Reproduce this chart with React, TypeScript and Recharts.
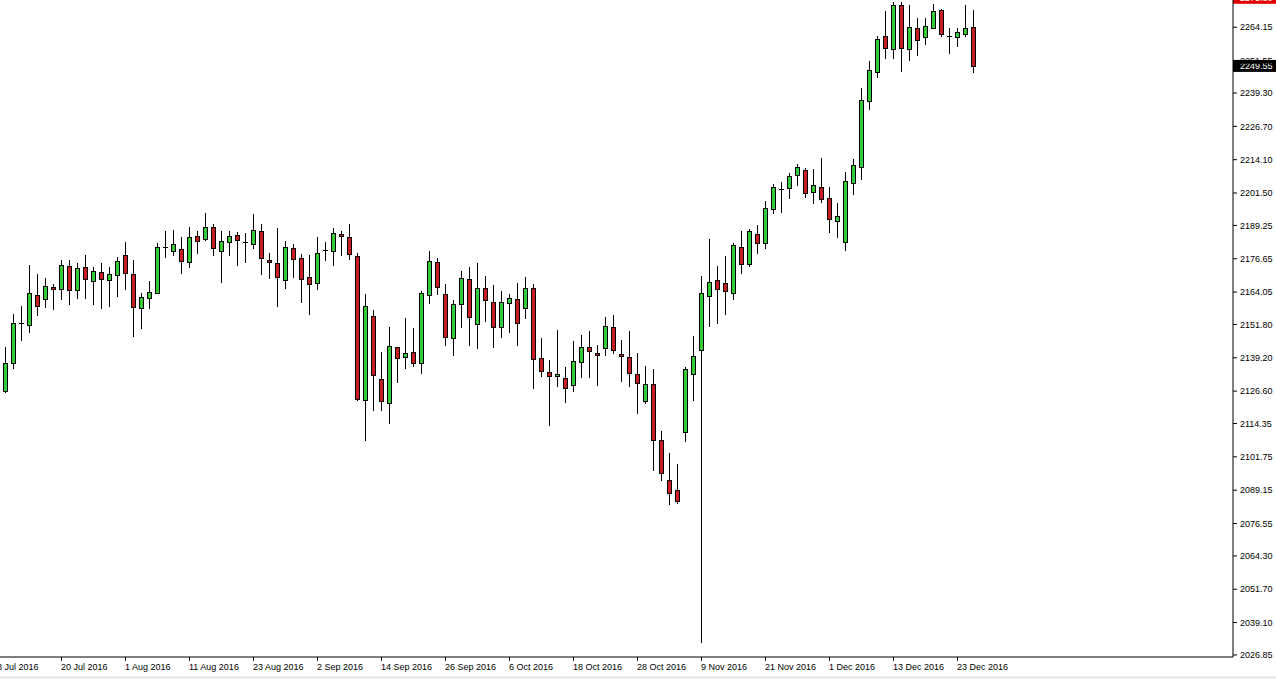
import React from "react";
import { ComposedChart, Bar, XAxis, YAxis, ReferenceLine } from "recharts";

// daily bars, 8 Jul 2016 .. 28 Dec 2016 (8 Jul sits just off the left edge)
const dates = [
  "8 Jul 2016", "11 Jul 2016", "12 Jul 2016", "13 Jul 2016", "14 Jul 2016", "15 Jul 2016",
  "18 Jul 2016", "19 Jul 2016", "20 Jul 2016", "21 Jul 2016", "22 Jul 2016",
  "25 Jul 2016", "26 Jul 2016", "27 Jul 2016", "28 Jul 2016", "29 Jul 2016",
  "1 Aug 2016", "2 Aug 2016", "3 Aug 2016", "4 Aug 2016", "5 Aug 2016",
  "8 Aug 2016", "9 Aug 2016", "10 Aug 2016", "11 Aug 2016", "12 Aug 2016",
  "15 Aug 2016", "16 Aug 2016", "17 Aug 2016", "18 Aug 2016", "19 Aug 2016",
  "22 Aug 2016", "23 Aug 2016", "24 Aug 2016", "25 Aug 2016", "26 Aug 2016",
  "29 Aug 2016", "30 Aug 2016", "31 Aug 2016", "1 Sep 2016", "2 Sep 2016",
  "5 Sep 2016", "6 Sep 2016", "7 Sep 2016", "8 Sep 2016", "9 Sep 2016",
  "12 Sep 2016", "13 Sep 2016", "14 Sep 2016", "15 Sep 2016", "16 Sep 2016",
  "19 Sep 2016", "20 Sep 2016", "21 Sep 2016", "22 Sep 2016", "23 Sep 2016",
  "26 Sep 2016", "27 Sep 2016", "28 Sep 2016", "29 Sep 2016", "30 Sep 2016",
  "3 Oct 2016", "4 Oct 2016", "5 Oct 2016", "6 Oct 2016", "7 Oct 2016",
  "10 Oct 2016", "11 Oct 2016", "12 Oct 2016", "13 Oct 2016", "14 Oct 2016",
  "17 Oct 2016", "18 Oct 2016", "19 Oct 2016", "20 Oct 2016", "21 Oct 2016",
  "24 Oct 2016", "25 Oct 2016", "26 Oct 2016", "27 Oct 2016", "28 Oct 2016",
  "31 Oct 2016", "1 Nov 2016", "2 Nov 2016", "3 Nov 2016", "4 Nov 2016",
  "7 Nov 2016", "8 Nov 2016", "9 Nov 2016", "10 Nov 2016", "11 Nov 2016",
  "14 Nov 2016", "15 Nov 2016", "16 Nov 2016", "17 Nov 2016", "18 Nov 2016",
  "21 Nov 2016", "22 Nov 2016", "23 Nov 2016", "24 Nov 2016", "25 Nov 2016",
  "28 Nov 2016", "29 Nov 2016", "30 Nov 2016", "1 Dec 2016", "2 Dec 2016",
  "5 Dec 2016", "6 Dec 2016", "7 Dec 2016", "8 Dec 2016", "9 Dec 2016",
  "12 Dec 2016", "13 Dec 2016", "14 Dec 2016", "15 Dec 2016", "16 Dec 2016",
  "19 Dec 2016", "20 Dec 2016", "21 Dec 2016", "22 Dec 2016", "23 Dec 2016",
  "27 Dec 2016", "28 Dec 2016",
];

const opens = [
  2107.0, 2126.8, 2137.1, 2152.2, 2151.6, 2163.1, 2161.5, 2166.0, 2165.2, 2173.9, 2164.9,
  2173.6, 2168.3, 2171.7, 2168.7, 2170.5, 2178.1, 2171.0, 2157.9, 2161.7, 2163.7,
  2181.0, 2179.5, 2180.4, 2175.3, 2185.3, 2184.0, 2188.8, 2179.6, 2183.0, 2185.8,
  2182.9, 2182.3, 2187.2, 2176.2, 2175.1, 2168.7, 2180.8, 2177.0, 2169.6, 2167.5,
  2180.0, 2179.6, 2186.1, 2185.0, 2177.7, 2123.2, 2155.0, 2131.2, 2122.1, 2143.3,
  2139.5, 2141.4, 2137.2, 2163.0, 2175.5, 2163.4, 2146.7, 2159.6, 2169.0, 2152.0,
  2165.6, 2160.3, 2150.9, 2160.0, 2161.5, 2158.1, 2165.6, 2139.1, 2133.8, 2132.3,
  2131.6, 2128.9, 2137.6, 2143.3, 2141.0, 2142.9, 2150.9, 2140.6, 2139.5, 2133.1,
  2122.9, 2129.3, 2108.1, 2093.0, 2089.2, 2111.1, 2133.1, 2142.2, 2162.6, 2168.7,
  2167.5, 2163.7, 2181.2, 2174.7, 2186.1, 2182.6, 2195.5, 2203.2, 2203.5, 2208.4,
  2210.3, 2202.0, 2203.9, 2199.7, 2191.0, 2183.0, 2205.4, 2211.4, 2236.4, 2247.4,
  2261.0, 2256.1, 2272.7, 2256.1, 2263.7, 2260.6, 2264.0, 2270.8, 2261.0, 2260.6,
  2261.8, 2264.4,
];

const highs = [
  2129.5, 2143.4, 2155.8, 2158.8, 2174.4, 2170.9, 2169.5, 2167.1, 2176.0, 2176.0, 2175.2,
  2178.2, 2173.7, 2175.2, 2173.7, 2177.2, 2182.9, 2176.0, 2163.6, 2168.4, 2182.6,
  2187.3, 2187.7, 2184.8, 2188.8, 2187.3, 2194.1, 2189.6, 2187.0, 2187.0, 2186.6,
  2186.2, 2193.7, 2189.6, 2178.9, 2188.3, 2183.5, 2182.3, 2178.5, 2178.2, 2185.0,
  2182.9, 2188.1, 2187.3, 2189.9, 2178.9, 2163.4, 2157.3, 2141.3, 2150.7, 2143.4,
  2154.3, 2150.5, 2164.6, 2179.7, 2176.8, 2167.1, 2161.1, 2172.2, 2173.7, 2175.1,
  2170.2, 2166.8, 2164.5, 2163.4, 2167.5, 2169.8, 2167.1, 2146.7, 2138.4, 2149.7,
  2135.7, 2145.6, 2147.8, 2149.3, 2144.1, 2154.7, 2155.4, 2145.9, 2149.3, 2141.0,
  2136.1, 2134.9, 2111.5, 2103.2, 2099.0, 2135.7, 2147.4, 2170.2, 2184.2, 2173.9,
  2177.7, 2182.6, 2187.3, 2188.0, 2189.5, 2198.5, 2205.0, 2205.7, 2209.2, 2212.6,
  2211.0, 2210.7, 2214.8, 2203.9, 2197.8, 2209.5, 2214.5, 2241.3, 2251.5, 2261.0,
  2270.5, 2273.6, 2273.8, 2272.4, 2267.8, 2267.8, 2273.1, 2271.2, 2263.7, 2263.7,
  2272.4, 2270.8,
];

const lows = [
  2106.5, 2126.4, 2135.2, 2146.0, 2148.8, 2155.2, 2158.5, 2157.5, 2161.3, 2159.6, 2161.8,
  2161.8, 2159.6, 2157.9, 2158.8, 2162.6, 2165.2, 2147.3, 2150.3, 2157.9, 2163.6,
  2177.2, 2177.9, 2171.1, 2173.4, 2178.7, 2183.9, 2178.1, 2167.8, 2178.1, 2174.3,
  2175.3, 2180.8, 2170.9, 2169.3, 2158.8, 2165.6, 2169.6, 2160.2, 2155.8, 2165.2,
  2176.2, 2174.3, 2178.1, 2176.6, 2123.2, 2108.1, 2119.4, 2119.4, 2114.5, 2129.9,
  2135.3, 2136.1, 2133.5, 2160.0, 2163.4, 2144.1, 2140.3, 2150.7, 2144.1, 2142.9,
  2153.2, 2143.3, 2147.1, 2149.0, 2144.1, 2154.3, 2127.8, 2132.3, 2113.8, 2128.5,
  2122.5, 2126.6, 2131.9, 2131.9, 2128.9, 2140.3, 2141.0, 2130.4, 2128.5, 2118.3,
  2122.1, 2096.7, 2093.0, 2083.9, 2084.3, 2107.7, 2123.2, 2031.9, 2151.2, 2152.2,
  2155.8, 2161.5, 2171.3, 2173.9, 2178.9, 2180.8, 2194.0, 2194.4, 2199.7, 2204.6,
  2200.1, 2197.8, 2198.2, 2186.8, 2184.9, 2180.0, 2201.2, 2206.9, 2233.4, 2245.5,
  2252.7, 2252.7, 2247.8, 2251.9, 2253.8, 2258.0, 2263.7, 2261.0, 2254.6, 2257.2,
  2261.0, 2247.4,
];

const closes = [
  2127.0, 2137.3, 2152.4, 2152.2, 2163.7, 2158.8, 2166.4, 2165.2, 2174.3, 2164.9, 2173.2,
  2169.0, 2172.1, 2169.0, 2171.0, 2175.8, 2171.1, 2158.3, 2162.2, 2164.1, 2181.2,
  2181.0, 2182.3, 2175.7, 2185.0, 2183.4, 2188.8, 2180.8, 2183.5, 2185.4, 2183.8,
  2182.9, 2187.6, 2177.0, 2175.5, 2169.6, 2181.2, 2176.6, 2169.0, 2167.1, 2178.9,
  2180.0, 2186.5, 2185.3, 2178.5, 2123.5, 2158.8, 2132.7, 2122.9, 2143.7, 2139.1,
  2141.0, 2137.2, 2163.7, 2175.8, 2166.0, 2147.1, 2159.6, 2169.4, 2154.6, 2165.6,
  2161.1, 2150.9, 2160.3, 2161.8, 2152.4, 2165.6, 2138.7, 2134.2, 2132.3, 2133.1,
  2127.8, 2138.0, 2143.3, 2141.8, 2140.3, 2151.2, 2142.2, 2139.9, 2133.5, 2129.6,
  2129.3, 2108.1, 2095.6, 2088.1, 2085.0, 2134.9, 2139.9, 2163.7, 2167.9, 2165.2,
  2164.5, 2181.9, 2174.7, 2187.2, 2182.6, 2195.9, 2203.8, 2203.2, 2208.0, 2211.4,
  2201.6, 2204.6, 2199.3, 2191.7, 2192.9, 2206.1, 2212.2, 2236.8, 2248.1, 2259.9,
  2256.5, 2272.7, 2256.5, 2264.4, 2259.5, 2264.8, 2270.5, 2261.8, 2261.0, 2262.5,
  2263.7, 2249.55,
];

const dateTicks = [
  "8 Jul 2016", "20 Jul 2016", "1 Aug 2016", "11 Aug 2016", "23 Aug 2016", "2 Sep 2016",
  "14 Sep 2016", "26 Sep 2016", "6 Oct 2016", "18 Oct 2016", "28 Oct 2016", "9 Nov 2016",
  "21 Nov 2016", "1 Dec 2016", "13 Dec 2016", "23 Dec 2016",
];

const priceTicks = [
  2264.15, 2251.55, 2239.3, 2226.7, 2214.1, 2201.5, 2189.25, 2176.65, 2164.05, 2151.8,
  2139.2, 2126.6, 2114.35, 2101.75, 2089.15, 2076.55, 2064.3, 2051.7, 2039.1, 2026.85,
];

const lastPrice = 2249.55;
const askPrice = 2275.3;

const UP = "#32CD32";
const DOWN = "#C81E1E";
const FONT = "'Liberation Sans', Arial, sans-serif";

// empty slots to the right of the last bar (chart shift)
const SHIFT_SLOTS = 32;

const candles = dates.map((date, i) => ({
  date,
  open: opens[i],
  high: highs[i],
  low: lows[i],
  close: closes[i],
}));
const rows = [
  ...candles,
  ...Array.from({ length: SHIFT_SLOTS }, (_, i) => ({ date: `shift-${i}` })),
];

// bar fills the whole 8px slot; candle is drawn in its middle
function Candle(props: any) {
  const { x, y, width, height, payload } = props;
  if (!payload || payload.open == null) return null;
  const { open, high, low, close } = payload;
  const top = Math.min(y, y + height);
  const bottom = Math.max(y, y + height);
  const ppu = (bottom - top) / (high - low);
  const toY = (v: number) => top + (high - v) * ppu;
  const cx = Math.round(x + width / 2) + 0.5;
  const yo = Math.round(toY(open));
  const yc = Math.round(toY(close));
  const bTop = Math.min(yo, yc);
  const bBot = Math.max(yo, yc);
  return (
    <g>
      <line x1={cx} x2={cx} y1={Math.round(top)} y2={Math.round(bottom) + 1} stroke="#000" strokeWidth={1} />
      {bBot - bTop < 1 ? (
        <line x1={cx - 2.5} x2={cx + 2.5} y1={bTop + 0.5} y2={bTop + 0.5} stroke="#000" strokeWidth={1} />
      ) : (
        <rect
          x={cx - 2}
          y={bTop + 0.5}
          width={4}
          height={bBot - bTop}
          fill={close >= open ? UP : DOWN}
          stroke="#000"
          strokeWidth={1}
        />
      )}
    </g>
  );
}

function DateTick(props: any) {
  const { x, y, payload } = props;
  if (!dateTicks.includes(payload.value)) return null;
  const px = Math.round(x) + 0.5;
  return (
    <g>
      <line x1={px} x2={px} y1={y} y2={y + 4} stroke="#000" />
      <text x={Math.round(x)} y={y + 12.5} fontSize={9} fontFamily={FONT} fill="#000" textAnchor="start">
        {payload.value}
      </text>
    </g>
  );
}

function PriceTag({ viewBox, value, bg }: any) {
  if (!viewBox) return null;
  const left = viewBox.x + viewBox.width;
  const cy = viewBox.y;
  return (
    <g>
      <rect x={left} y={cy - 6} width={50} height={12} fill={bg} />
      <text x={left + 7} y={cy + 3.5} fontSize={9} fontFamily={FONT} fill="#fff">
        {value}
      </text>
    </g>
  );
}

export default function App() {
  return (
    <div
      style={{
        position: "fixed",
        left: 0,
        top: 0,
        width: 1276,
        height: 679,
        overflow: "hidden",
        background: "#fff",
      }}
    >
      <div style={{ position: "absolute", left: -7, top: 0 }}>
        <ComposedChart
          width={1283}
          height={679}
          data={rows}
          margin={{ top: 0, right: 0, bottom: 0, left: 0 }}
        >
          <XAxis
            dataKey="date"
            interval={0}
            height={22}
            tickLine={false}
            tickSize={0}
            tickMargin={0}
            axisLine={{ stroke: "#000" }}
            tick={<DateTick />}
          />
          <YAxis
            orientation="right"
            type="number"
            domain={[2026.08, 2274.47]}
            allowDataOverflow
            ticks={priceTicks}
            interval={0}
            width={43}
            tickSize={4}
            tickMargin={3}
            axisLine={{ stroke: "#000" }}
            tickLine={{ stroke: "#000" }}
            tick={{ fontSize: 9, fontFamily: FONT, fill: "#000" }}
            tickFormatter={(v: number) => v.toFixed(2)}
          />
          <Bar
            dataKey={(d: any) => (d.open == null ? null : [d.low, d.high])}
            barSize={8}
            shape={<Candle />}
            isAnimationActive={false}
          />
          <ReferenceLine
            y={lastPrice}
            stroke="none"
            label={<PriceTag value={lastPrice.toFixed(2)} bg="#000" />}
          />
          <ReferenceLine
            y={askPrice}
            stroke="none"
            ifOverflow="visible"
            label={<PriceTag value={askPrice.toFixed(2)} bg="#E00000" />}
          />
        </ComposedChart>
      </div>
      <div
        style={{
          position: "absolute",
          left: 0,
          top: 676,
          width: 1276,
          height: 3,
          background: "#ececec",
        }}
      />
    </div>
  );
}
